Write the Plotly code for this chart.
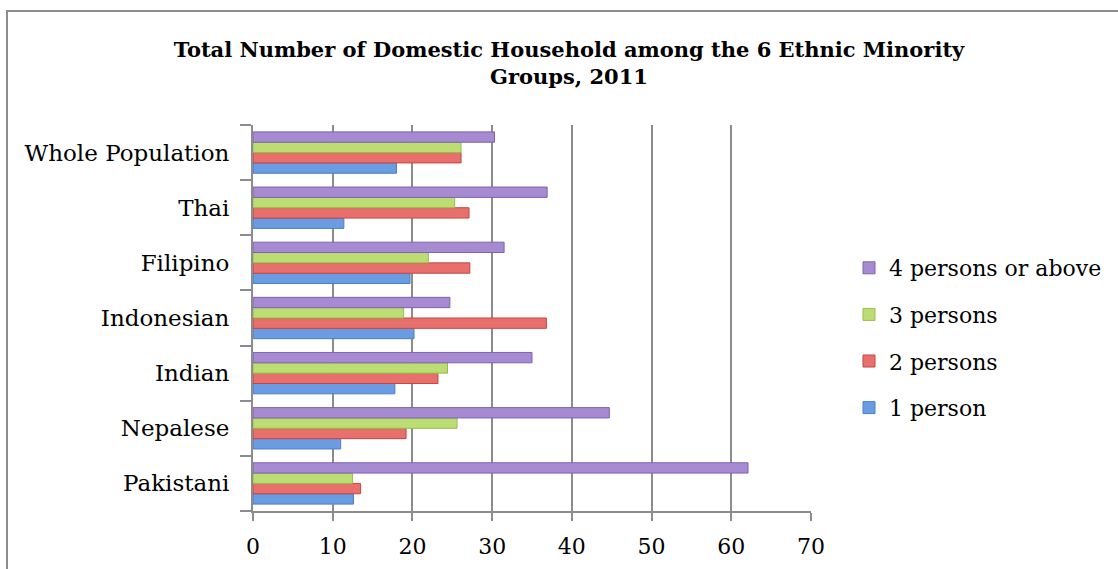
import plotly.graph_objects as go

# Ethnic groups, listed bottom to top on the category axis
groups = ["Pakistani", "Nepalese", "Indian", "Indonesian", "Filipino", "Thai", "Whole Population"]

# Share of domestic households by household size (%)
one_person = [12.6, 11.0, 17.8, 20.2, 19.7, 11.4, 18.0]
two_persons = [13.5, 19.2, 23.2, 36.8, 27.2, 27.1, 26.1]
three_persons = [12.5, 25.6, 24.4, 18.9, 22.0, 25.3, 26.1]
four_plus = [62.1, 44.7, 35.0, 24.7, 31.5, 36.9, 30.3]

series = [
    ("1 person", one_person, "#6a9ce2", "#4a7fc9"),
    ("2 persons", two_persons, "#e8706c", "#c9433f"),
    ("3 persons", three_persons, "#bcdc74", "#98bd4c"),
    ("4 persons or above", four_plus, "#a68bd3", "#7e63ad"),
]

W, H = 1118, 569
L, R, T, B = 253, 307, 125, 58
pw, ph = W - L - R, H - T - B

fig = go.Figure()
for i, (name, vals, fill, edge) in enumerate(series):
    fig.add_trace(go.Bar(
        y=groups, x=vals, name=name, orientation="h", legendgroup=name,
        legendrank=len(series) - i,
        marker=dict(color=fill, line=dict(color=edge, width=1)),
    ))

serif = "DejaVu Serif"
fig.update_layout(
    width=W, height=H,
    margin=dict(l=L, r=R, t=T, b=B, pad=0, autoexpand=False),
    paper_bgcolor="white", plot_bgcolor="white",
    barmode="group", bargap=0.25, bargroupgap=0,
    title=dict(
        text="<b>Total Number of Domestic Household among the 6 Ethnic Minority<br>Groups, 2011</b>",
        x=0.5 + (569 - (L + pw / 2)) / pw, xref="paper", xanchor="center",
        y=1 - 57 / H, yanchor="middle",
        font=dict(family=serif, size=21, color="black"),
    ),
    font=dict(family=serif, color="black"),
    legend=dict(
        traceorder="grouped",
        x=(849 - L) / pw, xanchor="left",
        y=1 - (338 - T) / ph, yanchor="middle",
        font=dict(family=serif, size=22, color="black"),
        itemwidth=30, tracegroupgap=15,
        bgcolor="rgba(0,0,0,0)",
    ),
    xaxis=dict(
        range=[0, 70], dtick=10, tick0=0,
        showgrid=True, gridcolor="#8c8c8c", gridwidth=2,
        showline=True, linecolor="#8c8c8c", linewidth=2,
        ticks="outside", ticklen=8, tickcolor="#8c8c8c", tickwidth=2,
        tickfont=dict(family=serif, size=22, color="black"),
        ticklabelstandoff=7,
        zeroline=False, fixedrange=True,
    ),
    yaxis=dict(
        showline=True, linecolor="#8c8c8c", linewidth=2,
        ticks="outside", ticklen=11, tickcolor="#8c8c8c", tickwidth=2,
        tickson="boundaries",
        tickfont=dict(family=serif, size=23, color="black"),
        ticklabelstandoff=17, showgrid=False, fixedrange=True,
    ),
    showlegend=True,
)

# Outer chart frame
fig.add_shape(
    type="rect", xref="paper", yref="paper",
    x0=(7 - L) / pw, x1=(W + 20 - L) / pw,
    y0=-(H + 20 - T - ph) / ph, y1=1 + (T - 11) / ph,
    line=dict(color="#8c8c8c", width=2), fillcolor="rgba(0,0,0,0)", layer="below",
)

fig.write_html("out.html")
